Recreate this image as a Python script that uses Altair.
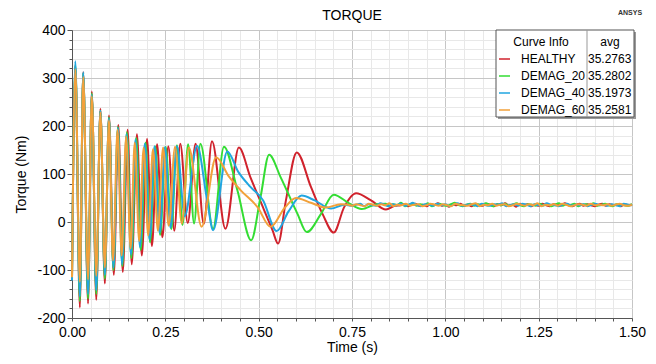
import altair as alt
import numpy as np
import pandas as pd

SERIES = ["HEALTHY", "DEMAG_20", "DEMAG_40", "DEMAG_60"]
AVGS = ["35.2763", "35.2802", "35.1973", "35.2581"]
COLORS = ["#d0222c", "#33dd33", "#21a6e0", "#f2a13a"]
TITLE = "TORQUE"
BRAND = "ANSYS"

# transient part: peaks / troughs (time s, torque Nm)
HEALTHY_T = [0.000, 0.009, 0.021, 0.030, 0.043, 0.053, 0.065, 0.076, 0.088, 0.099,
             0.112, 0.124, 0.136, 0.149, 0.160, 0.174, 0.187, 0.201, 0.214, 0.228,
             0.242, 0.258, 0.274, 0.290, 0.310, 0.331, 0.353, 0.375, 0.411, 0.447,
             0.478, 0.514, 0.537, 0.552, 0.573, 0.602, 0.640, 0.671, 0.701, 0.729,
             0.761, 0.801, 0.841, 0.865]
HEALTHY_V = [-120, 325, -178, 312, -170, 272, -162, 236, -128, 222,
             -110, 202, -104, 192, -88, 183, -70, 173, -50, 162,
             -32, 158, -18, 163, -2, 163, -4, 168, -14, 155,
             93, 26, -17, -45, 45, 145, 73, 17, -22, 31,
             60, 45, 26, 34]

DEMAG20_T = [0.000, 0.009, 0.021, 0.030, 0.043, 0.053, 0.065, 0.076, 0.088, 0.099,
             0.111, 0.123, 0.135, 0.147, 0.159, 0.172, 0.184, 0.197, 0.209, 0.223,
             0.236, 0.251, 0.266, 0.281, 0.296, 0.311, 0.327, 0.344, 0.378, 0.407,
             0.443, 0.480, 0.505, 0.528, 0.559, 0.604, 0.629, 0.667, 0.701, 0.740,
             0.776, 0.815]
DEMAG20_V = [-118, 328, -165, 310, -160, 268, -150, 232, -118, 218,
             -100, 198, -92, 187, -75, 175, -58, 165, -42, 158,
             -27, 157, -15, 160, -6, 162, -3, 163, -14, 157,
             66, -38, 52, 140, 93, 17, -21, 17, 57, 40,
             27, 37]

DEMAG40_T = [0.000, 0.009, 0.021, 0.030, 0.043, 0.053, 0.065, 0.076, 0.088, 0.099,
             0.111, 0.123, 0.134, 0.146, 0.158, 0.170, 0.182, 0.195, 0.208, 0.221,
             0.235, 0.249, 0.264, 0.281, 0.302, 0.335, 0.362, 0.378, 0.416, 0.445,
             0.478, 0.512, 0.548, 0.580, 0.615, 0.650, 0.694, 0.730]
DEMAG40_V = [-122, 335, -155, 312, -150, 265, -142, 232, -110, 216,
             -95, 196, -88, 183, -68, 172, -52, 163, -36, 158,
             -22, 156, -12, 158, 12, 159, 45, -17, 147, 105,
             73, 45, -19, 22, 55, 45, 28, 36]

DEMAG60_T = [0.000, 0.009, 0.021, 0.030, 0.043, 0.053, 0.065, 0.076, 0.088, 0.099,
             0.110, 0.122, 0.133, 0.145, 0.157, 0.168, 0.180, 0.192, 0.204, 0.217,
             0.230, 0.244, 0.259, 0.276, 0.294, 0.313, 0.347, 0.386, 0.420, 0.452,
             0.497, 0.532, 0.570, 0.600, 0.640, 0.680, 0.720]
DEMAG60_V = [-115, 318, -125, 302, -120, 262, -112, 228, -95, 212,
             -80, 192, -70, 178, -55, 165, -40, 155, -28, 152,
             -18, 155, -8, 157, -3, 155, -10, 135, 95, 66,
             31, -10, 30, 50, 40, 30, 37]

# steady-state ripple (values read as a band around ~35 Nm)
TAIL_START = [0.88, 0.84, 0.75, 0.74]
HEALTHY_TAIL = [35, 37, 33, 36, 38, 34, 36, 33, 37, 35, 39, 34, 36, 32, 37, 35, 38, 34, 36, 33,
                37, 35, 34, 38, 36, 33, 37, 35, 39, 34, 36, 32, 38, 35, 37, 33, 36, 34, 38, 35,
                33, 37, 36, 34, 39, 35, 33, 36, 38, 34, 37, 35, 33, 36, 38, 34, 37, 35, 36, 33,
                37, 35, 36]
DEMAG20_TAIL = [38, 34, 37, 35, 40, 33, 36, 38, 34, 37, 35, 39, 33, 36, 38, 35, 34, 37, 40, 35,
                33, 36, 38, 34, 37, 35, 39, 36, 33, 37, 35, 38, 34, 36, 39, 35, 33, 37, 36, 34,
                38, 35, 37, 33, 36, 39, 34, 37, 35, 38, 33, 36, 37, 35, 39, 34, 36, 38, 35, 33,
                37, 36, 35, 34, 37]
DEMAG40_TAIL = [34, 36, 38, 33, 37, 35, 34, 39, 36, 33, 37, 35, 38, 34, 36, 40, 35, 33, 37, 36,
                34, 38, 35, 37, 33, 36, 39, 34, 35, 37, 36, 33, 38, 35, 34, 37, 36, 39, 33, 35,
                37, 34, 38, 36, 33, 37, 35, 34, 39, 36, 35, 33, 37, 38, 34, 36, 35, 37, 33, 36,
                38, 35, 36, 34, 37, 35, 33, 38, 36, 35]
DEMAG60_TAIL = [36, 34, 37, 35, 33, 38, 36, 34, 37, 35, 39, 33, 36, 35, 38, 34, 36, 37, 33, 35,
                38, 36, 34, 37, 35, 33, 38, 36, 35, 34, 37, 39, 33, 36, 35, 38, 34, 36, 37, 33,
                35, 38, 36, 34, 37, 35, 39, 33, 36, 35, 37, 34, 38, 36, 33, 35, 37, 36, 34, 38,
                35, 36, 35, 37, 34, 36, 38, 35, 34, 36]

TRANS_T = [HEALTHY_T, DEMAG20_T, DEMAG40_T, DEMAG60_T]
TRANS_V = [HEALTHY_V, DEMAG20_V, DEMAG40_V, DEMAG60_V]
TAILS = [HEALTHY_TAIL, DEMAG20_TAIL, DEMAG40_TAIL, DEMAG60_TAIL]

FONT = "Liberation Sans"

MAJ_X = "abs(datum.value*4 - round(datum.value*4)) < 0.001"
MAJ_Y = "abs(datum.value % 100) < 0.001"

x_enc = alt.X(
    "t:Q",
    title="Time (s)",
    scale=alt.Scale(domain=[0, 1.5], nice=False, zero=False),
    axis=alt.Axis(
        values=[round(i * 0.05, 2) for i in range(31)],
        labelExpr=f"({MAJ_X}) ? format(datum.value, '.2f') : ''",
        gridColor={"condition": {"test": MAJ_X, "value": "#c6c6c6"}, "value": "#e8e8e8"},
        tickSize=3, labelPadding=4, titlePadding=1, labelFlush=False,
    ),
)
y_enc = alt.Y(
    "v:Q",
    title="Torque (Nm)",
    scale=alt.Scale(domain=[-200, 400], nice=False, zero=False),
    axis=alt.Axis(
        values=list(range(-200, 401, 20)),
        labelExpr=f"({MAJ_Y}) ? ('' + datum.value) : ''",
        gridColor={"condition": {"test": MAJ_Y, "value": "#c6c6c6"}, "value": "#e8e8e8"},
        tickSize={"condition": {"test": MAJ_Y, "value": 5}, "value": 3},
        labelPadding=2, titlePadding=8, labelFlush=False,
    ),
)

layers = []
for name, ts, vs, t0, tail, col in zip(SERIES, TRANS_T, TRANS_V, TAIL_START, TAILS, COLORS):
    tt = list(ts) + list(np.linspace(t0, 1.5, len(tail)))
    vv = list(vs) + list(tail)
    df = pd.DataFrame({"t": tt, "v": vv, "series": name})
    layers.append(
        alt.Chart(df).mark_line(color=col, strokeWidth=2, interpolate="monotone").encode(x=x_enc, y=y_enc)
    )

one = pd.DataFrame({"k": [0]})
# legend table (positions are layout, relative to plot area)
BX0, BX1, BY0, BY1 = 424, 562, 0, 87
layers.append(alt.Chart(one).mark_rect(fill="#9a9a9a").encode(
    x=alt.value(BX0 + 2), x2=alt.value(BX1 + 2), y=alt.value(BY0 + 2), y2=alt.value(BY1 + 2)))
layers.append(alt.Chart(one).mark_rect(fill="white", stroke="#555555", strokeWidth=1).encode(
    x=alt.value(BX0), x2=alt.value(BX1), y=alt.value(BY0), y2=alt.value(BY1)))
layers.append(alt.Chart(one).mark_rule(color="#999999", strokeWidth=1).encode(
    x=alt.value(515), y=alt.value(BY0), y2=alt.value(BY1)))

hdr = pd.DataFrame({"s": ["Curve Info", "avg"], "px": [469, 538]})
layers.append(alt.Chart(hdr).mark_text(font=FONT, fontSize=12, color="black", align="center", baseline="middle").encode(
    text="s:N", x=alt.X("px:Q", scale=None), y=alt.value(12)))

for i, (name, avg, col) in enumerate(zip(SERIES, AVGS, COLORS)):
    row = pd.DataFrame({"name": [name], "avg": [avg]})
    yy = 29 + 17 * i
    layers.append(alt.Chart(row).mark_rule(color=col, strokeWidth=1.5).encode(
        x=alt.value(427), x2=alt.value(438), y=alt.value(yy)))
    layers.append(alt.Chart(row).mark_text(font=FONT, fontSize=12, color="black", align="left", baseline="middle").encode(
        text="name:N", x=alt.value(449), y=alt.value(yy)))
    layers.append(alt.Chart(row).mark_text(font=FONT, fontSize=12, color="black", align="left", baseline="middle").encode(
        text="avg:N", x=alt.value(516), y=alt.value(yy)))

# chart title and brand mark as text marks above the plot area
layers.append(alt.Chart(pd.DataFrame({"s": [TITLE]})).mark_text(
    font=FONT, fontSize=14, color="black", align="center", baseline="middle").encode(
    text="s:N", x=alt.value(280), y=alt.value(-14)))
layers.append(alt.Chart(pd.DataFrame({"s": [BRAND]})).mark_text(
    font=FONT, fontSize=7, fontWeight="bold", color="#333333", align="center", baseline="middle").encode(
    text="s:N", x=alt.value(558), y=alt.value(-17)))

chart = alt.layer(*layers).properties(
    width=560, height=288,
    autosize=alt.AutoSizeParams(type="none"),
    padding={"left": 64, "top": 22, "right": 16, "bottom": 38},
).configure_view(stroke="#999999").configure_axis(
    labelFont=FONT, labelFontSize=14, labelColor="black",
    titleFont=FONT, titleFontSize=14, titleFontWeight="normal", titleColor="black",
    domainColor="#555555", tickColor="#555555",
)

chart.save("out.html", embed_options={"renderer": "svg", "actions": False})
